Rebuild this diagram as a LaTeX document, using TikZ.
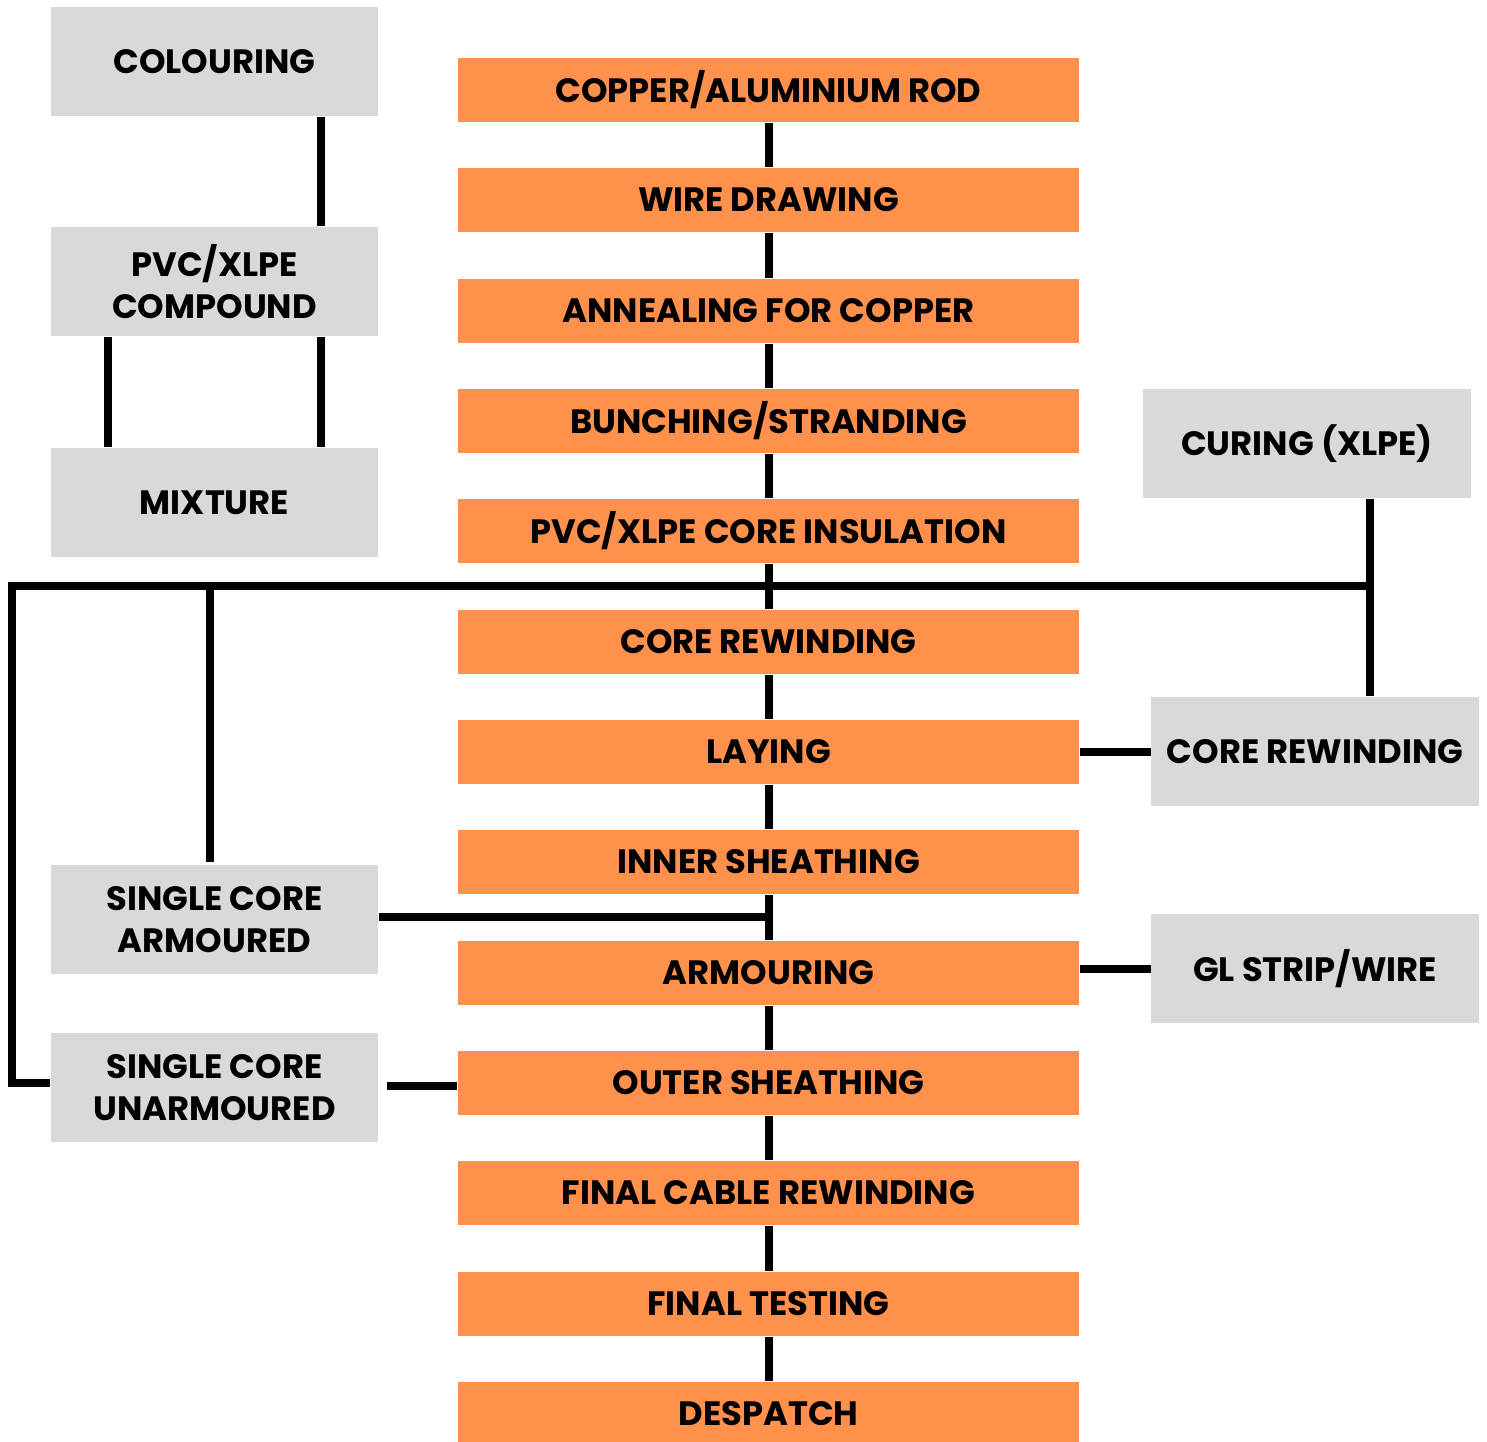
\documentclass[tikz,border=0pt]{standalone}
\usepackage{fontspec}
\setmainfont{Poppins}
\usepackage{xcolor}
\usepackage{tikz}

\definecolor{stepOrange}{HTML}{FF914D}
\definecolor{sideGray}{HTML}{D9D9D9}

\begin{document}
\begin{tikzpicture}[x=0.01cm, y=-0.01cm,
        mainbox/.style={fill=stepOrange, minimum width=6.21cm, minimum height=0.64cm,
            inner sep=0pt, font=\bfseries\fontsize{9.6}{12}\selectfont},
        sidebox/.style={fill=sideGray, minimum width=3.27cm, minimum height=1.09cm,
            inner sep=0pt, align=center, font=\bfseries\fontsize{9.6}{12}\selectfont},
        conn/.style={line width=0.08cm, line join=miter}]
        \useasboundingbox (0,0) rectangle (1487,1441);

        % Main process line
        \node[mainbox] (rod) at (768.5,90) {COPPER/ALUMINIUM ROD};
        \node[mainbox] (wire) at (768.5,200) {WIRE DRAWING};
        \node[mainbox] (anneal) at (768.5,311) {ANNEALING FOR COPPER};
        \node[mainbox] (bunch) at (768.5,421) {BUNCHING/STRANDING};
        \node[mainbox] (insul) at (768.5,531) {PVC/XLPE CORE INSULATION};
        \node[mainbox] (rewind) at (768.5,642) {CORE REWINDING};
        \node[mainbox] (laying) at (768.5,752) {LAYING};
        \node[mainbox] (inner) at (768.5,862) {INNER SHEATHING};
        \node[mainbox] (armour) at (768.5,973) {ARMOURING};
        \node[mainbox] (outer) at (768.5,1083) {OUTER SHEATHING};
        \node[mainbox] (final) at (768.5,1193) {FINAL CABLE REWINDING};
        \node[mainbox] (testing) at (768.5,1304) {FINAL TESTING};
        \node[mainbox] (despatch) at (768.5,1414) {DESPATCH};

        % Compound preparation
        \node[sidebox] (colour) at (214.5,61.5) {COLOURING};
        \node[sidebox] (compound) at (214.5,281.5) {PVC/XLPE\\COMPOUND};
        \node[sidebox] (mixture) at (214.5,502.5) {MIXTURE};

        % Single core branches
        \node[sidebox] (sca) at (214.5,919.5) {SINGLE CORE\\ARMOURED};
        \node[sidebox] (scu) at (214.5,1087.5) {SINGLE CORE\\UNARMOURED};

        % Right side
        \node[sidebox] (curing) at (1307,443.5) {CURING (XLPE)};
        \node[sidebox] (rewind2) at (1315,751.5) {CORE REWINDING};
        \node[sidebox] (strip) at (1315,968.5) {GL STRIP/WIRE};

        % Links of the main line
        \foreach \a/\b in {rod/wire, wire/anneal, anneal/bunch, bunch/insul, insul/rewind,
                rewind/laying, laying/inner, inner/armour, armour/outer, outer/final,
                final/testing, testing/despatch}
            \draw[conn] (\a) -- (\b);

        % Compound links
        \draw[conn] (321,0 |- colour.south) -- (321,0 |- compound.north);
        \draw[conn] (108,0 |- compound.south) -- (108,0 |- mixture.north);
        \draw[conn] (321,0 |- compound.south) -- (321,0 |- mixture.north);

        % Bus after insulation
        \coordinate (busL) at (12,586);
        \coordinate (busR) at (1370,586);
        \draw[conn] (busR) -- (busL) -- (busL |- 0,1083) -- (scu.west |- 0,1083);
        \draw[conn] (210,586) -- (210,862);
        \draw[conn] (busR |- curing.south) -- (busR |- rewind2.north);

        % Side links
        \draw[conn] (laying.east) -- (laying.east -| rewind2.west);
        \draw[conn] (strip.west -| armour.east) -- (strip.west);
        \draw[conn] (sca.east |- 0,917) -- (inner.south |- 0,917);
        \draw[conn, shorten <=0.08cm] (scu.east |- 0,1086) -- (outer.west |- 0,1086);
\end{tikzpicture}
\end{document}
